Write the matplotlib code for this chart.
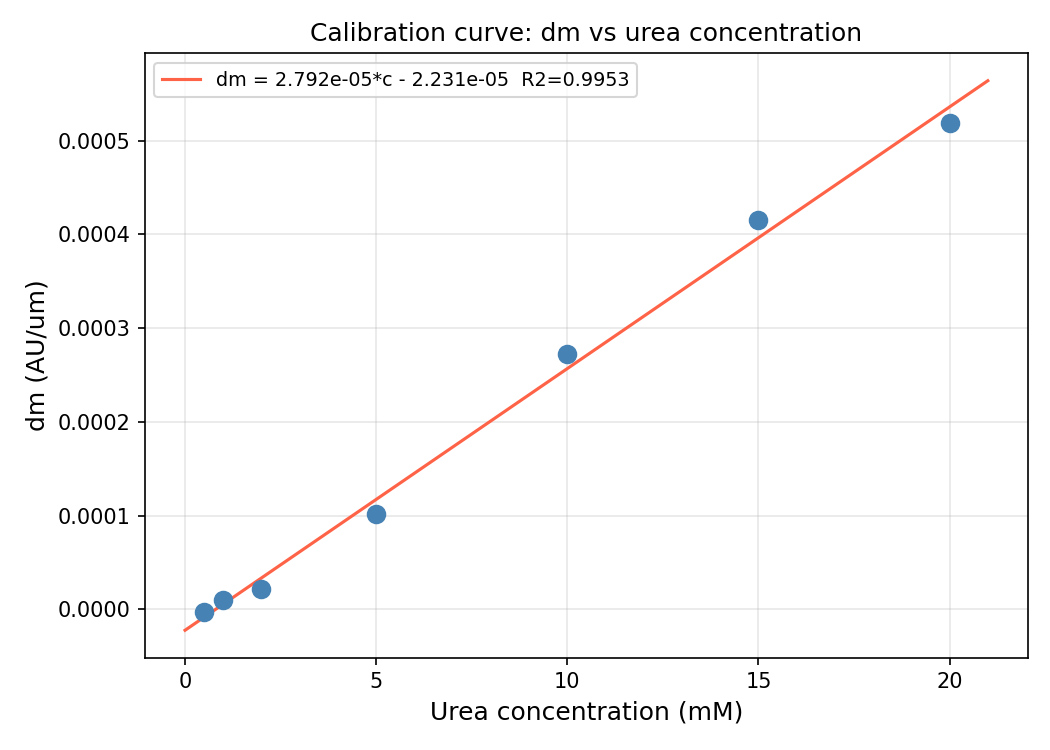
import matplotlib
matplotlib.use('Agg')
import matplotlib.pyplot as plt
import numpy as np

# calibration data
conc = [0.5, 1, 2, 5, 10, 15, 20]
dm = [-0.0000032, 0.0000096, 0.0000222, 0.000102, 0.000272, 0.000415, 0.000519]

# fit parameters as given in the legend
slope = 2.792e-05
intercept = -2.231e-05
r2 = 0.9953
fit_range = [0, 21]

fig, ax = plt.subplots(figsize=(7, 5), dpi=150)

xf = np.linspace(fit_range[0], fit_range[1], 100)
ax.plot(xf, slope * xf + intercept, color='tomato', linewidth=1.5,
        label=f'dm = {slope:.3e}*c - {abs(intercept):.3e}  R2={r2:.4f}')
ax.scatter(conc, dm, s=70, color='steelblue', zorder=3)

ax.set_title('Calibration curve: dm vs urea concentration', fontsize=12)
ax.set_xlabel('Urea concentration (mM)', fontsize=12)
ax.set_ylabel('dm (AU/um)', fontsize=12)
ax.set_xticks([0, 5, 10, 15, 20])
ax.grid(True, alpha=0.3)
ax.legend(loc='upper left', fontsize=9.2)

fig.subplots_adjust(left=0.138, right=0.979, top=0.929, bottom=0.123)
fig.savefig('out.png')
